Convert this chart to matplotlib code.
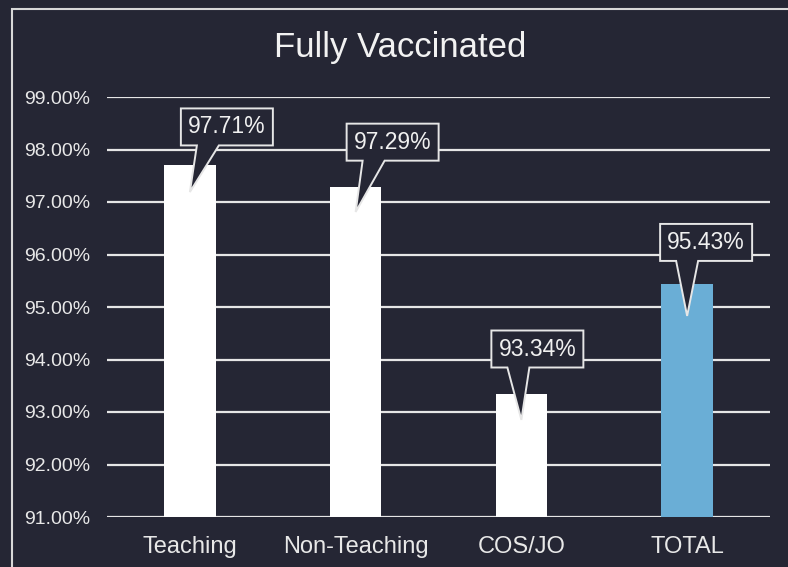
import matplotlib.pyplot as plt
import matplotlib.patches as mpatches

plt.rcParams['font.family'] = ['Liberation Sans', 'DejaVu Sans']

categories = ['Teaching', 'Non-Teaching', 'COS/JO', 'TOTAL']
values = [97.71, 97.29, 93.34, 95.43]
bar_colors = ['white', 'white', 'white', '#6aaed6']
bg = '#252634'
line_col = '#e6e6e6'

# callout placement: box offset from bar (px, value units), tip depth below bar top
label_dx = [37, 37, 16, 19]
label_dy = [0.72, 0.85, 0.86, 0.80]
tip_depth = [0.52, 0.48, 0.49, 0.60]

fig = plt.figure(figsize=(7.88, 5.67), dpi=100, facecolor=bg)
ax = fig.add_axes([107 / 788, 1 - 517 / 567, 663 / 788, 420 / 567])
ax.set_facecolor(bg)

# outer frame (runs off the right and bottom edge like the screenshot)
fig.patches.append(mpatches.Rectangle((12 / 788, -0.05), 1.0, 1 - 9 / 567 + 0.05,
                                      transform=fig.transFigure, fill=False,
                                      ec='#d8d8d8', lw=1.5))

x = range(len(categories))
ax.bar(x, values, width=0.31, color=bar_colors, zorder=2)

ax.set_ylim(91, 99)
ax.set_xlim(-0.5, 3.5)
ax.set_yticks([91, 92, 93, 94, 95, 96, 97, 98, 99])
ax.set_yticklabels(['%.2f%%' % v for v in ax.get_yticks()])
ax.set_xticks(list(x))
ax.set_xticklabels(categories)
ax.grid(axis='y', color=line_col, lw=1.6, zorder=1)
ax.set_axisbelow(True)
for s in ax.spines.values():
    s.set_visible(False)
ax.tick_params(axis='y', length=0, pad=12, labelsize=14, colors='#e8e8e8')
ax.tick_params(axis='x', length=0, pad=14, labelsize=17, colors='#e8e8e8')

# pixel -> data conversion for the callouts
dx = 4.0 / 663
dy = 8.0 / 420
bw, bh = 92, 37   # callout box size in px
for i, v in enumerate(values):
    cx, cy = i + label_dx[i] * dx, v + label_dy[i]
    tip = (i, v - tip_depth[i])
    left, right = cx - bw / 2 * dx, cx + bw / 2 * dx
    top, bot = cy + bh / 2 * dy, cy - bh / 2 * dy
    pts = [(left, top), (right, top), (right, bot),
           (cx - 8 * dx, bot), tip, (cx - 30 * dx, bot), (left, bot)]
    ax.add_patch(mpatches.Polygon(pts, closed=True, fc=bg, ec=line_col,
                                  lw=1.4, zorder=4, joinstyle='miter',
                                  clip_on=False))
    ax.text(cx, cy, '%.2f%%' % v, ha='center', va='center', fontsize=16.5,
            color='#f0f0f0', zorder=5)

fig.text(400 / 788, 1 - 47 / 567, 'Fully Vaccinated', ha='center', va='center',
         fontsize=25, color='#f2f2f2')

fig.savefig('out.png', dpi=100, facecolor=bg)
